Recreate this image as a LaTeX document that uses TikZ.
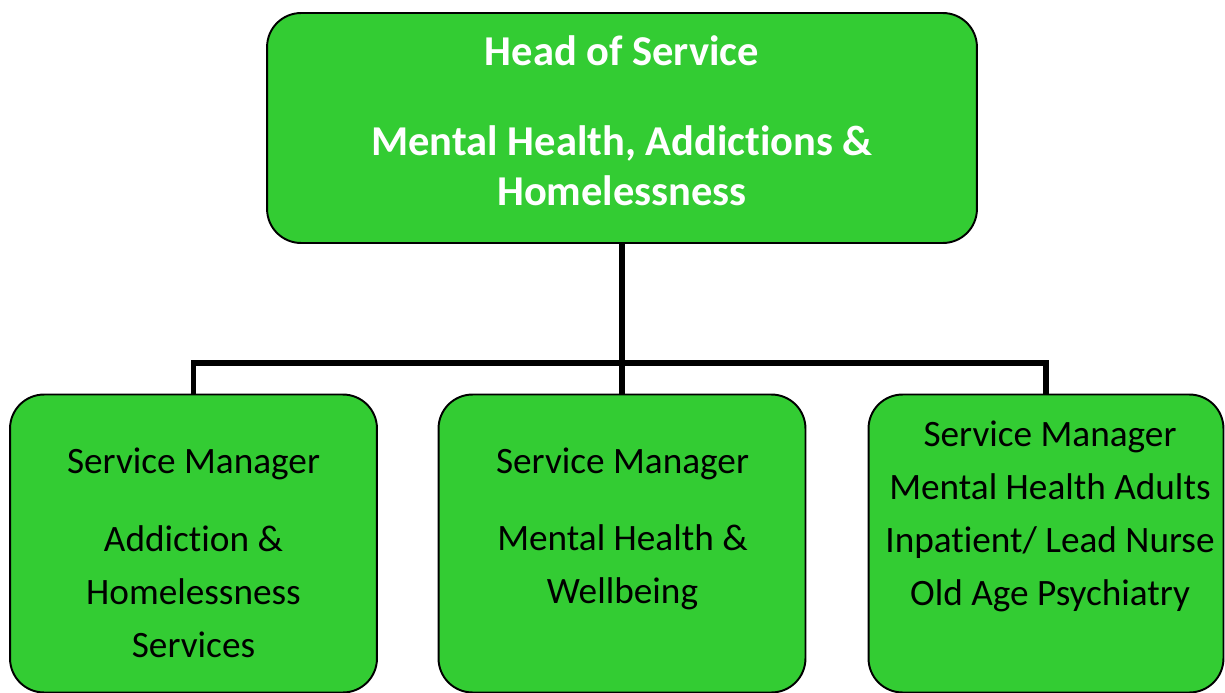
\documentclass[tikz,border=0pt]{standalone}
\usepackage{fontspec}
\setmainfont{Carlito}[Ligatures={NoCommon}]
\usepackage{xcolor}
\definecolor{orggreen}{RGB}{51,204,51}

\tikzset{
  orgbox/.style={draw=black, line width=1.1pt, fill=orggreen, rounded corners=0.68cm,
    minimum width=7.34cm, minimum height=5.96cm, inner sep=0pt},
  boxtext/.style={align=center, font=\fontsize{21.2}{30.2}\selectfont, inner sep=0pt},
  headtext/.style={align=center, text=white, font=\bfseries\fontsize{24.2}{28.9}\selectfont, inner sep=0pt},
  link/.style={draw=black, line width=3.4pt}
}

\begin{document}
\begin{tikzpicture}[x=0.02cm, y=-0.02cm]
    \useasboundingbox (0,0) rectangle (1225,693);

    % Head
    \node[orgbox, minimum width=14.2cm, minimum height=4.6cm] (head) at (622,128) {};
    \node[headtext] (headtxt) at (622,121)
      {Head of Service\\[22pt] Mental Health, Addictions \&\\ Homelessness};

    % Service managers
    \node[orgbox] (sm1) at (193.5,543.5) {};
    \node[boxtext] (sm1txt) at (193.5,553)
      {Service Manager\\[14pt] Addiction \&\\ Homelessness\\ Services};

    \node[orgbox] (sm2) at (622,543.5) {};
    \node[boxtext] (sm2txt) at (622.5,529)
      {Service Manager\\[14pt] Mental Health \&\\ Wellbeing};

    \node[orgbox, minimum width=7.1cm] (sm3) at (1046,543.5) {};
    \node[boxtext] (sm3txt) at (1050,516)
      {Service Manager\\ Mental Health Adults\\ Inpatient/ Lead Nurse\\ Old Age Psychiatry};

    % Links
    \coordinate (bus) at (622,363);
    \draw[link] (head.south) -- (sm2.north);
    \draw[link] (sm1.north) |- (bus) -| (sm3.north);
\end{tikzpicture}
\end{document}
